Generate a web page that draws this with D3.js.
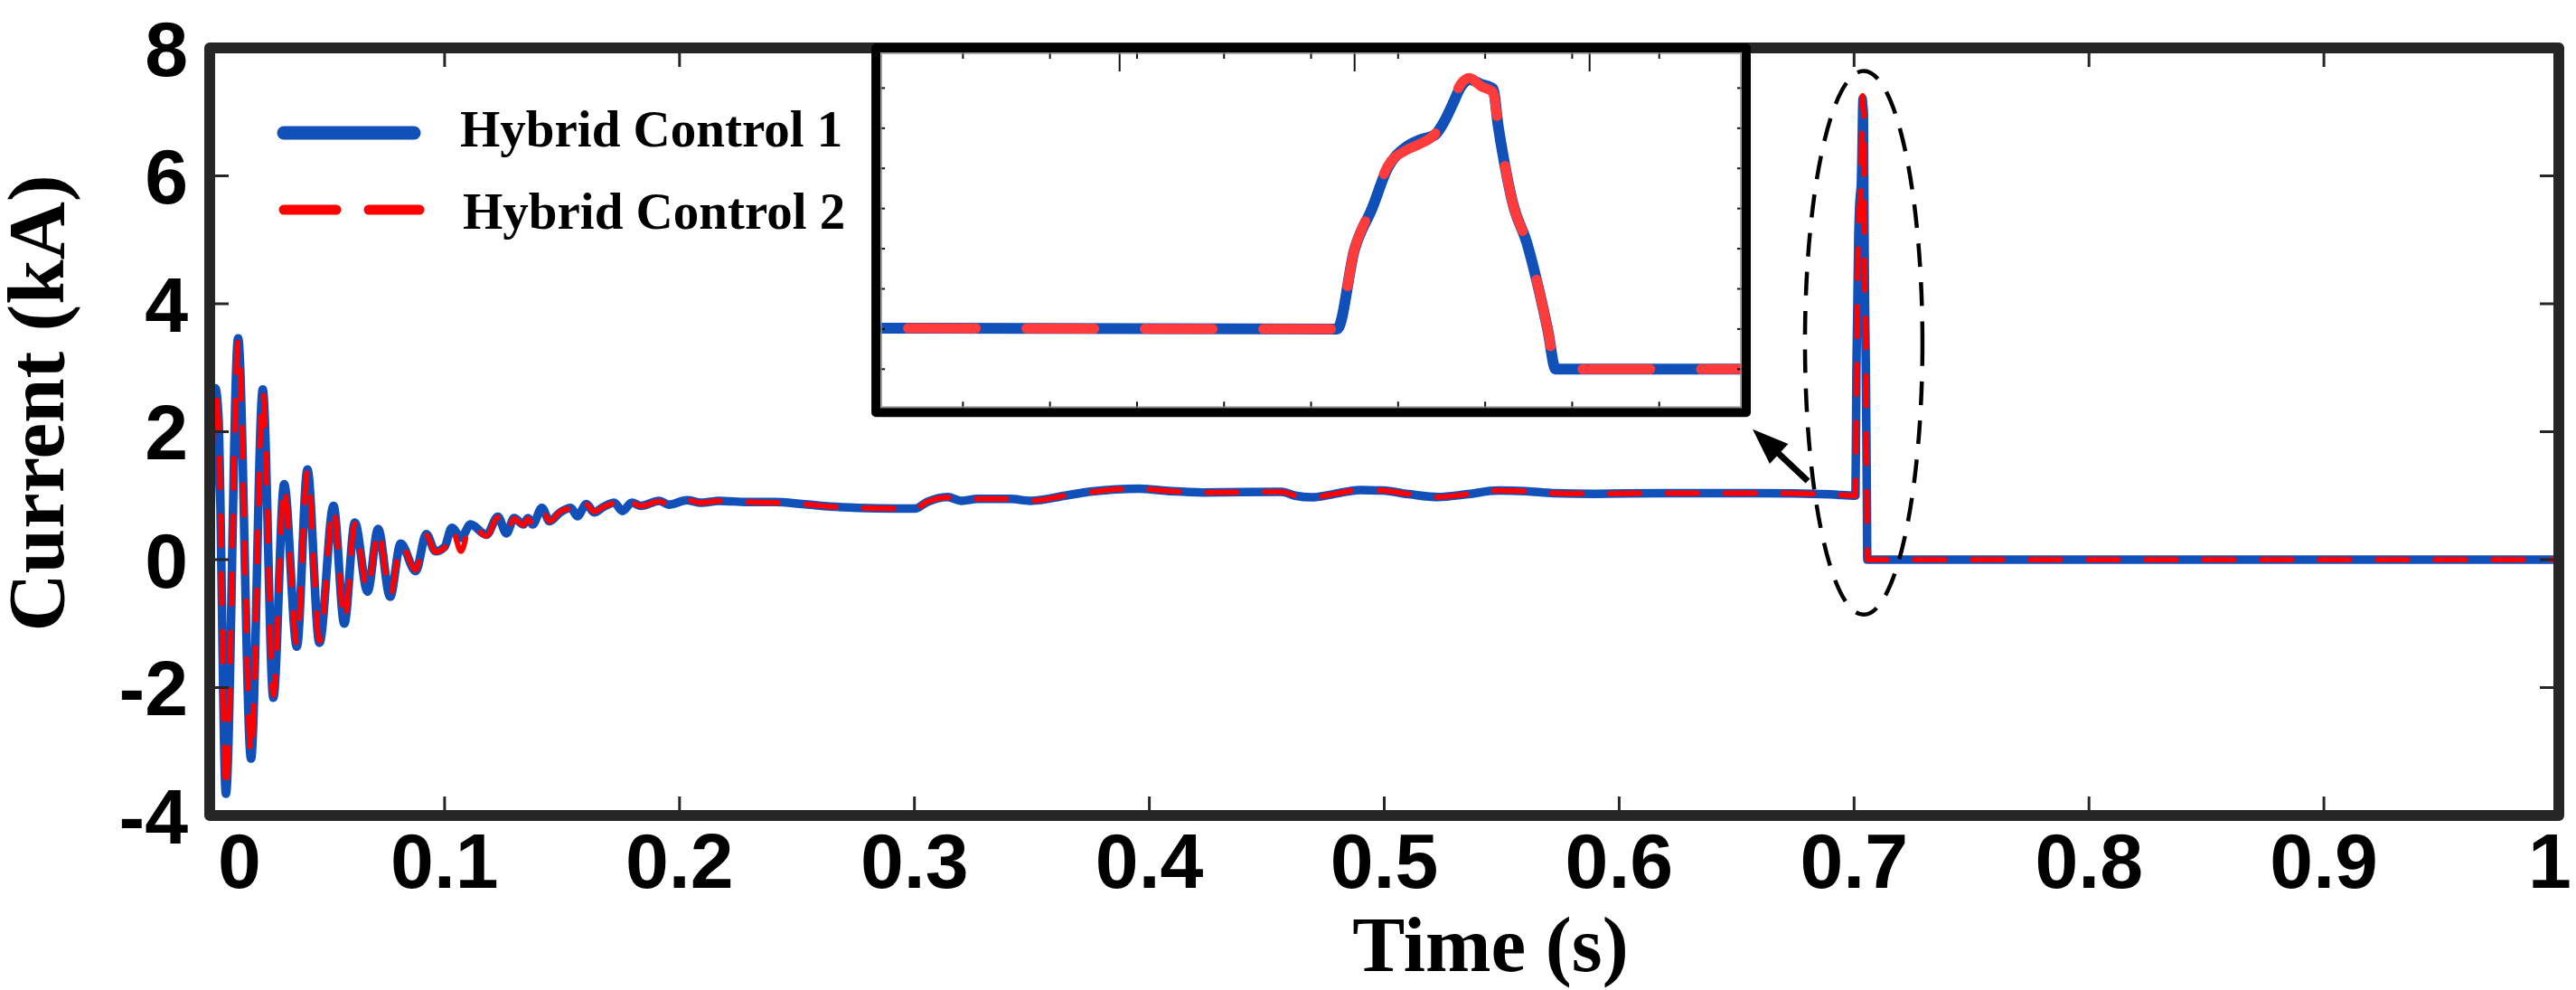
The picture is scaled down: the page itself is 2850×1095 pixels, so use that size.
<!DOCTYPE html>
<html>
<head>
<meta charset="utf-8">
<script src="https://cdn.jsdelivr.net/npm/d3@7"></script>
<style>
  html, body { margin: 0; padding: 0; background: #fff; overflow: hidden; }
  svg { display: block; }
</style>
</head>
<body>
<svg id="chart"></svg>
<script>
// ---- data (time in s, current in kA) ----
// start-up oscillation, 0 .. 0.1 s
const startupTime = [0, 0.0024, 0.0037, 0.0069, 0.0121, 0.0176, 0.0226, 0.0271, 0.0317, 0.0371,
                     0.0416, 0.0467, 0.0527, 0.0573, 0.0618, 0.0672, 0.0717, 0.0768, 0.0813, 0.0877,
                     0.0922, 0.0961, 0.1000];
const startupHC1 = [0, 2.68, 2.26, -3.66, 3.46, -3.11, 2.66, -2.16, 1.18, -1.36,
                    1.41, -1.30, 0.84, -1.00, 0.58, -0.50, 0.48, -0.58, 0.25, -0.18,
                    0.40, 0.13, 0.20];
const startupHC2 = [0, 2.60, 2.20, -3.62, 3.40, -3.05, 2.62, -2.12, 1.15, -1.32,
                    1.38, -1.27, 0.82, -0.97, 0.56, -0.48, 0.46, -0.56, 0.24, -0.16,
                    0.38, 0.12, 0.19];

// settling ripple, 0.1 .. 0.3 s
const settleTime = [0.1031, 0.1070, 0.1110, 0.1178, 0.1227, 0.1263, 0.1296, 0.1335, 0.1355, 0.1375,
                    0.1414, 0.1447, 0.1492, 0.1537, 0.1565, 0.1604, 0.1636, 0.1679, 0.1722, 0.1757,
                    0.1797, 0.1836, 0.1914, 0.1954, 0.2032, 0.2091, 0.2170, 0.2287, 0.2405, 0.2523,
                    0.2641, 0.2758, 0.2916, 0.3004];
const settleHC1 = [0.50, 0.34, 0.55, 0.39, 0.67, 0.41, 0.65, 0.55, 0.65, 0.55,
                   0.81, 0.60, 0.74, 0.81, 0.68, 0.87, 0.74, 0.83, 0.89, 0.76,
                   0.89, 0.84, 0.92, 0.86, 0.93, 0.89, 0.92, 0.90, 0.90, 0.87,
                   0.83, 0.81, 0.80, 0.80];
const settleHC2 = [0.48, 0.13, 0.55, 0.37, 0.66, 0.42, 0.64, 0.54, 0.64, 0.55,
                   0.78, 0.60, 0.75, 0.80, 0.69, 0.86, 0.75, 0.83, 0.88, 0.77,
                   0.88, 0.84, 0.91, 0.86, 0.93, 0.89, 0.92, 0.90, 0.89, 0.87,
                   0.83, 0.81, 0.80, 0.80];

// steady state, 0.3 .. 0.69 s
const steadyTime = [0.3053, 0.3141, 0.3200, 0.3269, 0.3406, 0.3495, 0.3642, 0.3740, 0.3858, 0.3956,
                    0.4093, 0.4229, 0.4562, 0.4621, 0.4690, 0.4778, 0.4896, 0.4994, 0.5112, 0.5230,
                    0.5347, 0.5485, 0.5603, 0.5720, 0.5897, 0.6191, 0.6584, 0.6900];
const steadyHC1 = [0.90, 0.98, 0.92, 0.95, 0.95, 0.92, 1.00, 1.06, 1.10, 1.11,
                   1.07, 1.05, 1.06, 1.00, 0.975, 1.02, 1.09, 1.08, 1.02, 0.98,
                   1.02, 1.08, 1.07, 1.04, 1.03, 1.04, 1.04, 1.02];
const steadyHC2 = [0.90, 0.97, 0.93, 0.95, 0.95, 0.92, 1.00, 1.05, 1.10, 1.11,
                   1.07, 1.05, 1.06, 1.00, 0.975, 1.02, 1.09, 1.08, 1.02, 0.98,
                   1.02, 1.08, 1.07, 1.04, 1.03, 1.04, 1.04, 1.02];

// fault spike and trip, 0.70 .. 1 s
const faultTime = [0.7006, 0.7010, 0.7014, 0.70176, 0.70218, 0.70252, 0.70284, 0.70304, 0.70324, 0.70344,
                   0.70364, 0.7039, 0.70418, 0.7043, 0.70444, 0.70464, 0.70496, 0.70524, 0.70544, 0.70562,
                   0.7100, 1.0];
const faultHC1 = [1.00, 2.99, 4.00, 5.01, 5.53, 5.72, 5.83, 6.13, 6.57, 7.03,
                  7.21, 7.10, 6.98, 6.05, 5.15, 4.11, 3.14, 1.95, 0.97, 0.0,
                  0, 0];
const faultHC2 = [1.00, 3.00, 4.05, 5.05, 5.45, 5.62, 5.85, 6.20, 6.65, 7.10,
                  7.25, 7.05, 6.90, 6.05, 5.15, 4.10, 3.14, 1.95, 0.97, 0.0,
                  0, 0];

const seriesNames = ["Hybrid Control 1", "Hybrid Control 2"];
const xTicks = [0, 0.1, 0.2, 0.3, 0.4, 0.5, 0.6, 0.7, 0.8, 0.9, 1];
const xTickLabels = ["0", "0.1", "0.2", "0.3", "0.4", "0.5", "0.6", "0.7", "0.8", "0.9", "1"];
const yTicks = [-4, -2, 0, 2, 4, 6, 8];
const yTickLabels = ["-4", "-2", "0", "2", "4", "6", "8"];

// zoomed inset (unlabelled axes)
const insetTimeDomain = [0.690, 0.710];
const insetCurrentDomain = [-1.08, 8.0];
const insetXTicks = [0.692, 0.694, 0.696, 0.698, 0.700, 0.702, 0.704, 0.706, 0.708];
const insetLongTicks = [0.6956, 0.7010, 0.7064];
const insetYTicks = [0, 1, 2, 3, 4, 5, 6, 7];
// where the inset sits, in main-axis units
const insetBoxTime = [0.2836, 0.6541];
const insetBoxCurrent = [2.30, 8];

// annotation: dashed ellipse round the spike and arrow to the inset
const ellipseCentre = [0.7041, 3.39];
const ellipseRadii = [0.025, 4.25];
const arrowFrom = [0.6803, 1.23];
const arrowTo = [0.6568, 2.04];

// ---- layout ----
const width = 2850;
const height = 1095;
const margin = { top: 53, right: 19, bottom: 193, left: 232 };
const innerWidth = width - margin.left - margin.right;
const innerHeight = height - margin.top - margin.bottom;

const blue = "#1150b8";
const red = "#ff0000";
const frameColor = "#262626";

const svg = d3.select("#chart").attr("width", width).attr("height", height);
svg.append("rect").attr("width", width).attr("height", height).attr("fill", "#fff");

const x = d3.scaleLinear().domain([0, 1]).range([margin.left, margin.left + innerWidth]);
const y = d3.scaleLinear().domain([-4, 8]).range([margin.top + innerHeight, margin.top]);

function build(times, values) {
    return times.map((t, i) => ({ t: t, v: values[i] }));
}
const hc1 = [].concat(build(startupTime, startupHC1), build(settleTime, settleHC1),
                      build(steadyTime, steadyHC1), build(faultTime, faultHC1));
const hc2 = [].concat(build(startupTime, startupHC2), build(settleTime, settleHC2),
                      build(steadyTime, steadyHC2), build(faultTime, faultHC2));

const defs = svg.append("defs");
defs.append("clipPath").attr("id", "plotClip")
    .append("rect")
    .attr("x", x(0)).attr("y", y(8))
    .attr("width", x(1) - x(0)).attr("height", y(-4) - y(8));

const line = d3.line()
    .x(d => x(d.t))
    .y(d => y(d.v))
    .curve(d3.curveMonotoneX);

const plot = svg.append("g").attr("clip-path", "url(#plotClip)");
plot.append("path").datum(hc1)
    .attr("d", line).attr("fill", "none")
    .attr("stroke", blue).attr("stroke-width", 9.5)
    .attr("stroke-linejoin", "round").attr("stroke-linecap", "round");
plot.append("path").datum(hc2)
    .attr("d", line).attr("fill", "none")
    .attr("stroke", red).attr("stroke-width", 6)
    .attr("stroke-dasharray", "33,31")
    .attr("stroke-linejoin", "round").attr("stroke-linecap", "round");

// ticks on all four sides, pointing inwards
const tickLen = 21;
const axisG = svg.append("g").attr("stroke", frameColor).attr("stroke-width", 3);
xTicks.forEach(t => {
    axisG.append("line").attr("x1", x(t)).attr("x2", x(t))
        .attr("y1", y(-4)).attr("y2", y(-4) - tickLen);
    axisG.append("line").attr("x1", x(t)).attr("x2", x(t))
        .attr("y1", y(8)).attr("y2", y(8) + tickLen);
});
yTicks.forEach(v => {
    axisG.append("line").attr("x1", x(0)).attr("x2", x(0) + tickLen)
        .attr("y1", y(v)).attr("y2", y(v));
    axisG.append("line").attr("x1", x(1)).attr("x2", x(1) - tickLen)
        .attr("y1", y(v)).attr("y2", y(v));
});

// frame
svg.append("rect")
    .attr("x", x(0)).attr("y", y(8))
    .attr("width", x(1) - x(0)).attr("height", y(-4) - y(8))
    .attr("fill", "none").attr("stroke", frameColor)
    .attr("stroke-width", 12).attr("stroke-linejoin", "round");

// tick labels
const tickFont = "'Liberation Sans', Arial, sans-serif";
svg.append("g").selectAll("text")
    .data(xTicks)
    .join("text")
    .attr("x", (d, i) => x(d) + (i === 0 ? 33 : i === xTicks.length - 1 ? -10 : 0))
    .attr("y", 982)
    .attr("text-anchor", "middle")
    .attr("font-family", tickFont).attr("font-weight", "bold").attr("font-size", 86)
    .text((d, i) => xTickLabels[i]);

svg.append("g").selectAll("text")
    .data(yTicks)
    .join("text")
    .attr("x", 208)
    .attr("y", d => y(d))
    .attr("dy", "0.36em")
    .attr("text-anchor", "end")
    .attr("font-family", tickFont).attr("font-weight", "bold").attr("font-size", 86)
    .text((d, i) => yTickLabels[i]);

// axis titles
const serif = "'Liberation Serif', 'Times New Roman', serif";
svg.append("text")
    .attr("x", 1649).attr("y", 1074)
    .attr("text-anchor", "middle")
    .attr("font-family", serif).attr("font-weight", "bold").attr("font-size", 87)
    .text("Time (s)");
svg.append("text")
    .attr("transform", "translate(70, 446) rotate(-90)")
    .attr("text-anchor", "middle")
    .attr("font-family", serif).attr("font-weight", "bold").attr("font-size", 89)
    .text("Current (kA)");

// ---- inset ----
const ix0 = x(insetBoxTime[0]), ix1 = x(insetBoxTime[1]);
const iy0 = y(insetBoxCurrent[1]), iy1 = y(insetBoxCurrent[0]);
const ix = d3.scaleLinear().domain(insetTimeDomain).range([ix0, ix1]);
const iy = d3.scaleLinear().domain(insetCurrentDomain).range([iy1, iy0]);

const inset = svg.append("g");
inset.append("rect")
    .attr("x", ix0).attr("y", iy0).attr("width", ix1 - ix0).attr("height", iy1 - iy0)
    .attr("fill", "#fff");

defs.append("clipPath").attr("id", "insetClip")
    .append("rect")
    .attr("x", ix0).attr("y", iy0).attr("width", ix1 - ix0).attr("height", iy1 - iy0);

const insetLine = d3.line()
    .x(d => ix(d.t))
    .y(d => iy(d.v))
    .curve(d3.curveMonotoneX);

const insetPlot = inset.append("g").attr("clip-path", "url(#insetClip)");
insetPlot.append("path").datum(hc1)
    .attr("d", insetLine).attr("fill", "none")
    .attr("stroke", blue).attr("stroke-width", 12)
    .attr("stroke-linejoin", "round").attr("stroke-linecap", "round");
insetPlot.append("path").datum(hc2)
    .attr("d", insetLine).attr("fill", "none")
    .attr("stroke", "#ff3b3b").attr("stroke-width", 11)
    .attr("stroke-dasharray", "75,56")
    .attr("stroke-linejoin", "round").attr("stroke-linecap", "round");

const insetTicks = inset.append("g").attr("stroke", "#111").attr("stroke-width", 2);
insetXTicks.forEach(t => {
    insetTicks.append("line").attr("x1", ix(t)).attr("x2", ix(t))
        .attr("y1", iy1).attr("y2", iy1 - 12);
    insetTicks.append("line").attr("x1", ix(t)).attr("x2", ix(t))
        .attr("y1", iy0).attr("y2", iy0 + 12);
});
insetLongTicks.forEach(t => {
    insetTicks.append("line").attr("x1", ix(t)).attr("x2", ix(t))
        .attr("y1", iy0).attr("y2", iy0 + 26);
});
insetYTicks.forEach(v => {
    insetTicks.append("line").attr("x1", ix0).attr("x2", ix0 + 10)
        .attr("y1", iy(v)).attr("y2", iy(v));
    insetTicks.append("line").attr("x1", ix1).attr("x2", ix1 - 10)
        .attr("y1", iy(v)).attr("y2", iy(v));
});

inset.append("rect")
    .attr("x", ix0).attr("y", iy0).attr("width", ix1 - ix0).attr("height", iy1 - iy0)
    .attr("fill", "none").attr("stroke", "#000").attr("stroke-width", 10)
    .attr("stroke-linejoin", "round");
inset.append("rect")
    .attr("x", ix0 + 6).attr("y", iy0 + 6).attr("width", ix1 - ix0 - 12).attr("height", iy1 - iy0 - 12)
    .attr("fill", "none").attr("stroke", "#888").attr("stroke-width", 1.5);

// ---- legend ----
const legend = svg.append("g");
legend.append("line")
    .attr("x1", 314).attr("x2", 458).attr("y1", 147).attr("y2", 147)
    .attr("stroke", blue).attr("stroke-width", 15).attr("stroke-linecap", "round");
legend.append("line")
    .attr("x1", 314).attr("x2", 464).attr("y1", 232).attr("y2", 232)
    .attr("stroke", red).attr("stroke-width", 11).attr("stroke-linecap", "round")
    .attr("stroke-dasharray", "58,36");
legend.selectAll("text")
    .data(seriesNames)
    .join("text")
    .attr("x", (d, i) => 509 + i * 3)
    .attr("y", (d, i) => 162 + i * 91)
    .attr("font-family", serif).attr("font-weight", "bold").attr("font-size", 57)
    .text(d => d);

// ---- annotation ----
const ecx = x(ellipseCentre[0]), ecy = y(ellipseCentre[1]);
svg.append("ellipse")
    .attr("cx", ecx).attr("cy", ecy)
    .attr("rx", x(ellipseCentre[0] + ellipseRadii[0]) - ecx)
    .attr("ry", ecy - y(ellipseCentre[1] + ellipseRadii[1]))
    .attr("fill", "none").attr("stroke", "#000").attr("stroke-width", 4.5)
    .attr("stroke-dasharray", "26,17");

const ax0 = x(arrowFrom[0]), ay0 = y(arrowFrom[1]);
const ax1 = x(arrowTo[0]), ay1 = y(arrowTo[1]);
const len = Math.hypot(ax1 - ax0, ay1 - ay0);
const ux = (ax1 - ax0) / len, uy = (ay1 - ay0) / len;
const headLen = 40, headHalf = 15;
const bx = ax1 - ux * headLen, by = ay1 - uy * headLen;
svg.append("line")
    .attr("x1", ax0).attr("y1", ay0).attr("x2", bx + ux * 4).attr("y2", by + uy * 4)
    .attr("stroke", "#000").attr("stroke-width", 7);
svg.append("path")
    .attr("d", `M${ax1},${ay1} L${bx - uy * headHalf},${by + ux * headHalf} L${bx + uy * headHalf},${by - ux * headHalf} Z`)
    .attr("fill", "#000");
</script>
</body>
</html>
